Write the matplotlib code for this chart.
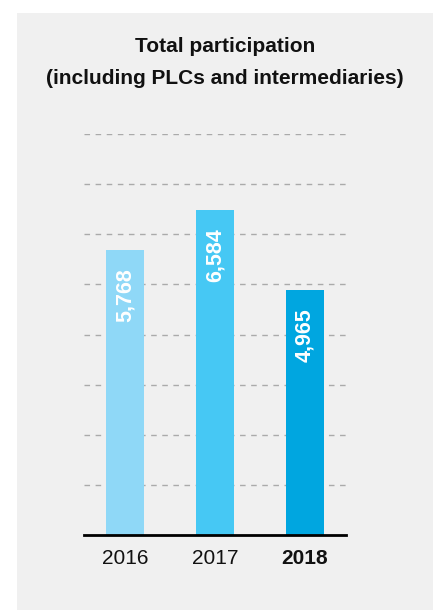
import numpy as np
import matplotlib
matplotlib.use("Agg")
import matplotlib.pyplot as plt
from matplotlib.patches import Rectangle

plt.rcParams['font.family'] = ['Liberation Sans Narrow', 'Liberation Sans', 'DejaVu Sans']

years = ['2016', '2017', '2018']
values = [5768, 6584, 4965]
labels = ['5,768', '6,584', '4,965']
colors = ['#8fd8f7', '#46c8f4', '#00a6e0']

W, H = 438, 610
fig = plt.figure(figsize=(W / 100, H / 100), dpi=100)
fig.patch.set_facecolor('white')
fig.patches.append(Rectangle((17 / W, 0), (433 - 17) / W, (H - 13) / H,
                             transform=fig.transFigure, facecolor='#f0f0f0',
                             edgecolor='none', zorder=-5))

fig.text(225 / W, 1 - 46 / H, 'Total participation', ha='center', va='center',
         fontsize=15, fontweight='bold', color='#111111')
fig.text(225 / W, 1 - 79 / H, '(including PLCs and intermediaries)', ha='center',
         va='center', fontsize=15, fontweight='bold', color='#111111')

ax = fig.add_axes([84 / W, 1 - 535 / H, (346 - 84) / W, (535 - 134) / H])
ax.set_facecolor('none')

ymax = 8120
x = np.arange(len(years))
ax.bar(x, values, width=0.42, color=colors, zorder=2)
for yv in np.linspace(0, ymax, 9)[1:]:
    ax.axhline(yv, color='#aaaaaa', linestyle=(0, (4, 4)), linewidth=1, zorder=1)

for xi, v, lab in zip(x, values, labels):
    ax.annotate(lab, (xi, v), xytext=(0, -13), textcoords='offset points',
                rotation=90, ha='center', va='top', color='white',
                fontsize=15.5, fontweight='bold', zorder=3)

ax.set_xlim(-0.456, 2.456)
ax.set_ylim(0, ymax)
ax.set_xticks(x)
ax.set_xticklabels(years, fontsize=15, color='#111111')
ax.get_xticklabels()[2].set_fontweight('bold')
ax.tick_params(axis='x', length=0, pad=10)
ax.set_yticks([])
for s in ['top', 'left', 'right']:
    ax.spines[s].set_visible(False)
ax.spines['bottom'].set_linewidth(2)
ax.spines['bottom'].set_color('black')
ax.spines['bottom'].set_zorder(4)

fig.savefig('out.png', dpi=100)
